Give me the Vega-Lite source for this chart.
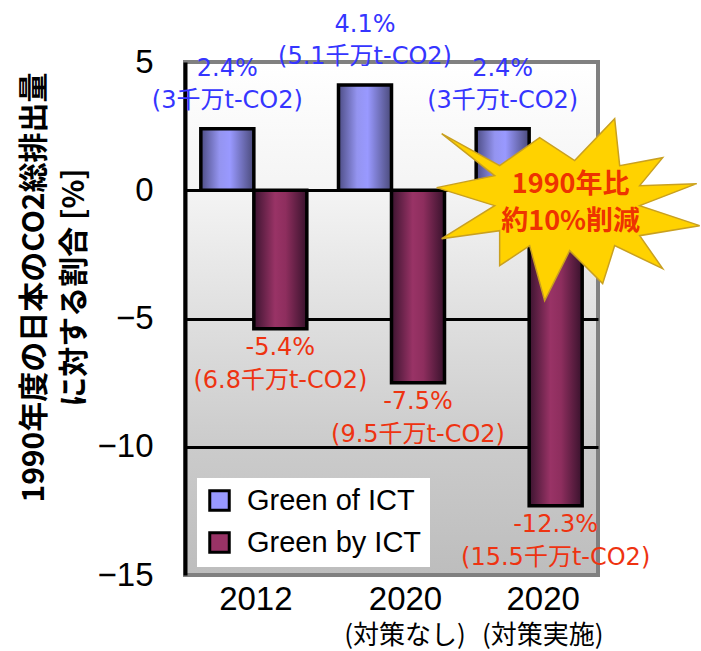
{
  "$schema": "https://vega.github.io/schema/vega-lite/v6.json",
  "width": 413,
  "height": 513,
  "autosize": {"type": "none"},
  "padding": {"left": 185, "top": 62, "right": 103, "bottom": 76},
  "background": "white",
  "config": {
    "view": {
      "stroke": "#808080",
      "strokeWidth": 4,
      "fill": {"gradient": "linear", "x1": 0, "y1": 0, "x2": 0, "y2": 1, "stops": [
        {"offset": 0, "color": "#ffffff"},
        {"offset": 0.25, "color": "#f4f4f4"},
        {"offset": 0.5, "color": "#dfdfdf"},
        {"offset": 0.75, "color": "#cbcbcb"},
        {"offset": 1, "color": "#bdbdbd"}
      ]}
    },
    "text": {"font": "DejaVu Sans, Noto Sans CJK JP"}
  },
  "datasets": {
    "bars": [
      {"group": "2012", "series": "Green of ICT", "value": 2.4, "pct": "2.4%", "amount": "(3千万t-CO2)"},
      {"group": "2012", "series": "Green by ICT", "value": -5.4, "pct": "-5.4%", "amount": "(6.8千万t-CO2)"},
      {"group": "2020(対策なし)", "series": "Green of ICT", "value": 4.1, "pct": "4.1%", "amount": "(5.1千万t-CO2)"},
      {"group": "2020(対策なし)", "series": "Green by ICT", "value": -7.5, "pct": "-7.5%", "amount": "(9.5千万t-CO2)"},
      {"group": "2020(対策実施)", "series": "Green of ICT", "value": 2.4, "pct": "2.4%", "amount": "(3千万t-CO2)"},
      {"group": "2020(対策実施)", "series": "Green by ICT", "value": -12.3, "pct": "-12.3%", "amount": "(15.5千万t-CO2)"}
    ],
    "note": [
      {"group": "2020(対策実施)", "series": "Green by ICT", "value": -0.6, "line1": "1990年比", "line2": "約10%削減"}
    ],
    "sub": [
      {"group": "2020(対策なし)", "series": "Green by ICT", "value": -15, "sub": "(対策なし)"},
      {"group": "2020(対策実施)", "series": "Green by ICT", "value": -15, "sub": "(対策実施)"}
    ]
  },
  "data": {"name": "bars"},
  "encoding": {
    "x": {
      "field": "group", "type": "nominal",
      "scale": {"domain": ["2012", "2020(対策なし)", "2020(対策実施)"], "paddingInner": 0.23, "paddingOuter": 0.115},
      "axis": {
        "title": null, "domain": false, "ticks": false, "labelAngle": 0,
        "labelFont": "Liberation Sans", "labelFontSize": 33, "labelColor": "black",
        "labelPadding": 8, "labelBaseline": "top",
        "labelExpr": "slice(datum.label, 0, 4)",
        "labelOffset": {"condition": {"test": "datum.value === '2012'", "value": 2}, "value": 14}
      }
    },
    "xOffset": {
      "field": "series", "type": "nominal",
      "scale": {"domain": ["Green of ICT", "Green by ICT"], "paddingInner": 0, "paddingOuter": 0}
    },
    "y": {
      "field": "value", "type": "quantitative",
      "scale": {"domain": [-15, 5], "nice": false, "zero": false},
      "axis": {
        "values": [5, 0, -5, -10, -15],
        "title": ["1990年度の日本のCO2総排出量", "に対する割合 [%]"],
        "titleFont": "Noto Sans CJK JP", "titleFontSize": 30, "titleFontWeight": "bold", "titleColor": "black",
        "titleAngle": 270, "titleX": -136, "titleY": 225, "titleAlign": "center", "titleBaseline": "bottom", "titleLineHeight": 40,
        "labelFont": "Liberation Sans", "labelFontSize": 33, "labelColor": "black", "labelPadding": 32,
        "ticks": false, "domainColor": "black", "domainWidth": 4,
        "grid": true, "gridWidth": 3,
        "gridColor": {"condition": {"test": "datum.value === 5 || datum.value === -15", "value": "#808080"}, "value": "black"}
      }
    }
  },
  "layer": [
    {
      "transform": [{"filter": "datum.series === 'Green of ICT'"}],
      "mark": {"type": "bar", "stroke": "black", "strokeWidth": 3.5,
        "fill": {"gradient": "linear", "x1": 0, "y1": 0, "x2": 1, "y2": 0, "stops": [
          {"offset": 0, "color": "#4d4d85"},
          {"offset": 0.35, "color": "#9494f0"},
          {"offset": 0.55, "color": "#9999ff"},
          {"offset": 1, "color": "#4a4a7a"}
        ]}
      }
    },
    {
      "transform": [{"filter": "datum.series === 'Green by ICT'"}],
      "mark": {"type": "bar", "stroke": "black", "strokeWidth": 3.5,
        "fill": {"gradient": "linear", "x1": 0, "y1": 0, "x2": 1, "y2": 0, "stops": [
          {"offset": 0, "color": "#3c1430"},
          {"offset": 0.4, "color": "#993366"},
          {"offset": 0.6, "color": "#8e2e5e"},
          {"offset": 1, "color": "#38122c"}
        ]}
      }
    },
    {
      "mark": {"type": "point", "shape": "square", "filled": true, "size": 0},
      "encoding": {
        "fill": {
          "field": "series", "type": "nominal",
          "scale": {"domain": ["Green of ICT", "Green by ICT"], "range": ["#9999ff", "#993366"]},
          "legend": {
            "title": null, "orient": "none", "legendX": 12, "legendY": 416,
            "fillColor": "white", "padding": 8,
            "symbolType": "square", "symbolSize": 380, "symbolStrokeColor": "black", "symbolStrokeWidth": 3, "symbolOpacity": 1,
            "labelFont": "Liberation Sans", "labelFontSize": 29, "labelColor": "black", "labelOffset": 13, "rowPadding": 9, "labelLimit": 300
          }
        }
      }
    },
    {
      "transform": [{"filter": "datum.series === 'Green of ICT'"}],
      "mark": {"type": "text", "dy": -60, "fontSize": 24, "color": "#3535ff", "baseline": "middle"},
      "encoding": {"text": {"field": "pct"}}
    },
    {
      "transform": [{"filter": "datum.series === 'Green of ICT'"}],
      "mark": {"type": "text", "dy": -28, "fontSize": 24, "color": "#3535ff", "baseline": "middle"},
      "encoding": {"text": {"field": "amount"}}
    },
    {
      "transform": [{"filter": "datum.series === 'Green by ICT'"}],
      "mark": {"type": "text", "dy": 19, "fontSize": 24, "color": "#ee3311", "baseline": "middle"},
      "encoding": {"text": {"field": "pct"}}
    },
    {
      "transform": [{"filter": "datum.series === 'Green by ICT'"}],
      "mark": {"type": "text", "dy": 52, "fontSize": 24, "color": "#ee3311", "baseline": "middle"},
      "encoding": {"text": {"field": "amount"}}
    },
    {
      "data": {"name": "note"},
      "mark": {"type": "point", "filled": true, "opacity": 1, "size": 40000, "fill": "#ffd200", "stroke": "#c9a020", "strokeWidth": 1.5,
        "shape": "M 0.59 -0.87 L 0.64 -0.40 L 1.07 -0.48 L 0.84 -0.20 L 1.41 -0.22 L 0.84 0 L 1.44 0.20 L 0.84 0.30 L 1.07 0.63 L 0.59 0.40 L 0.47 0.78 L 0.14 0.45 L -0.11 0.95 L -0.26 0.40 L -0.56 0.60 L -0.56 0.25 L -1.14 0.33 L -0.61 0 L -1.19 -0.18 L -0.61 -0.30 L -1.14 -0.72 L -0.56 -0.40 L -0.16 -0.68 L 0.19 -0.45 Z"}
    },
    {
      "data": {"name": "note"},
      "mark": {"type": "text", "dx": 15, "dy": -21, "font": "Noto Sans CJK JP", "fontSize": 27, "fontWeight": "bold", "color": "#ee3300", "baseline": "middle"},
      "encoding": {"text": {"field": "line1"}}
    },
    {
      "data": {"name": "note"},
      "mark": {"type": "text", "dx": 15, "dy": 16, "font": "Noto Sans CJK JP", "fontSize": 27, "fontWeight": "bold", "color": "#ee3300", "baseline": "middle"},
      "encoding": {"text": {"field": "line2"}}
    },
    {
      "data": {"name": "sub"},
      "mark": {"type": "text", "dx": -13, "dy": 61, "font": "Noto Sans CJK JP", "fontSize": 26, "color": "black", "baseline": "middle"},
      "encoding": {"text": {"field": "sub"}}
    }
  ]
}
